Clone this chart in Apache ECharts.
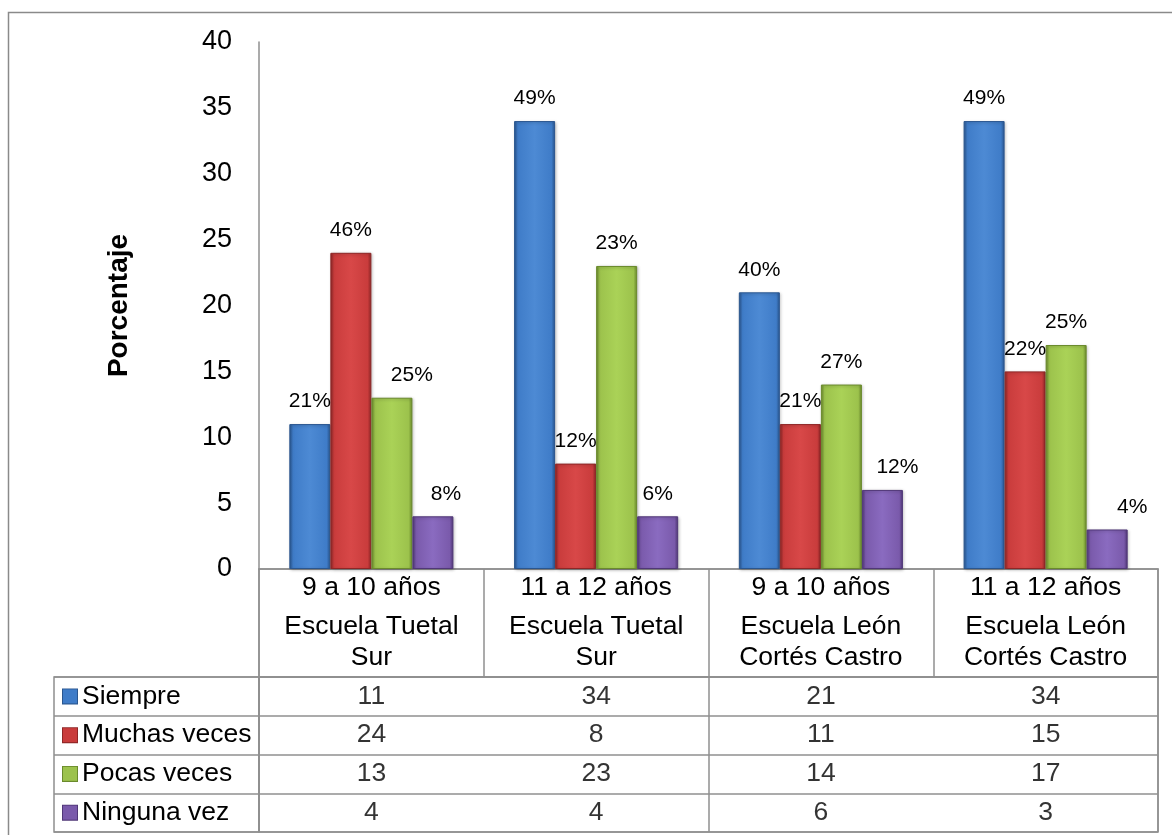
<!DOCTYPE html>
<html>
<head>
<meta charset="utf-8">
<script src="https://cdn.jsdelivr.net/npm/echarts@6/dist/echarts.min.js"></script>
<style>
  html, body { margin: 0; padding: 0; background: #fff; }
  #chart { width: 1172px; height: 835px; }
</style>
</head>
<body>
<div id="chart"></div>
<script>
// ---- data ----
const categories = ['9 a 10 años Escuela Tuetal Sur', '11 a 12 años Escuela Tuetal Sur', '9 a 10 años Escuela León Cortés Castro', '11 a 12 años Escuela León Cortés Castro'];
const ageLabels = ['9 a 10 años', '11 a 12 años', '9 a 10 años', '11 a 12 años'];
const schoolLabels = ['Escuela Tuetal\nSur', 'Escuela Tuetal\nSur', 'Escuela León\nCortés Castro', 'Escuela León\nCortés Castro'];
const seriesNames = ['Siempre', 'Muchas veces', 'Pocas veces', 'Ninguna vez'];
const siempre = [11, 34, 21, 34];
const muchasVeces = [24, 8, 11, 15];
const pocasVeces = [13, 23, 14, 17];
const ningunaVez = [4, 4, 6, 3];
const siemprePct = ['21%', '49%', '40%', '49%'];
const muchasVecesPct = ['46%', '12%', '21%', '22%'];
const pocasVecesPct = ['25%', '23%', '27%', '25%'];
const ningunaVezPct = ['8%', '6%', '12%', '4%'];
const yTicks = { min: 0, max: 40, interval: 5 };
const yAxisTitle = 'Porcentaje';

// ---- styling ----
const values = [siempre, muchasVeces, pocasVeces, ningunaVez];
const pcts = [siemprePct, muchasVecesPct, pocasVecesPct, ningunaVezPct];
const palette = [
  { body: '#3f7cc8', light: '#4d8ad4', edge: '#2a568f' },
  { body: '#c93c3c', light: '#d84848', edge: '#8e2626' },
  { body: '#9cc24c', light: '#aad257', edge: '#6a8a2c' },
  { body: '#7a5aab', light: '#8a6bc0', edge: '#503777' }
];
// horizontal nudges of a few value labels, as placed in the original chart
const labelNudge = [[0, 0, 0, 0], [0, 0, 0, 0], [20, 0, 0, 0], [13, 0, 15, 25]];

const FONT = '"Liberation Sans", Arial, sans-serif';
const LINE = '#8f8f8f';
const PLOT_LEFT = 259, PLOT_RIGHT = 14;

function barColor(p) {
  return new echarts.graphic.LinearGradient(0, 0, 1, 0, [
    { offset: 0, color: p.edge },
    { offset: 0.09, color: p.body },
    { offset: 0.5, color: p.light },
    { offset: 0.91, color: p.body },
    { offset: 1, color: p.edge }
  ]);
}

const barSeries = seriesNames.map((name, s) => ({
  name: name,
  type: 'bar',
  xAxisIndex: 0,
  yAxisIndex: 0,
  barGap: '0%',
  barCategoryGap: '27%',
  data: values[s].map((v, i) => ({
    value: v,
    label: { offset: [labelNudge[s][i], 0] }
  })),
  itemStyle: {
    color: barColor(palette[s]),
    borderColor: palette[s].edge,
    borderWidth: 1,
    shadowColor: 'rgba(0,0,0,0.25)',
    shadowBlur: 3,
    shadowOffsetX: 1,
    shadowOffsetY: 1
  },
  label: {
    show: true,
    position: 'top',
    distance: 12,
    fontFamily: FONT,
    fontSize: 21,
    color: '#000',
    formatter: (p) => pcts[s][p.dataIndex]
  },
  silent: true
}));

const cellData = [];
values.forEach((arr, s) => arr.forEach((v, i) => cellData.push([i, s, v])));

const richLegend = { t: { fontFamily: FONT, fontSize: 26.5, color: '#000', padding: [0, 0, 0, 5] } };
palette.forEach((p, s) => {
  richLegend['b' + s] = { width: 14, height: 14, backgroundColor: p.body, borderColor: p.edge, borderWidth: 1 };
});

const option = {
  animation: false,
  backgroundColor: '#fff',
  graphic: [{
    type: 'rect', silent: true, z: -10,
    shape: { x: 8.5, y: 12.5, width: 2000, height: 2000 },
    style: { fill: 'none', stroke: '#8a8a8a', lineWidth: 1.5 }
  }],
  grid: [
    { left: PLOT_LEFT, right: PLOT_RIGHT, top: 42, height: 527 },                       // plot
    { left: PLOT_LEFT, right: PLOT_RIGHT, top: 569, height: 108, show: true, borderColor: LINE, borderWidth: 1.5 }, // header
    { left: PLOT_LEFT, right: PLOT_RIGHT, top: 677, height: 155, show: true, borderColor: LINE, borderWidth: 1.5 }, // body
    { left: 54, width: 205, top: 677, height: 155, show: true, borderColor: LINE, borderWidth: 1.5 }                // legend column
  ],
  xAxis: [
    { gridIndex: 0, type: 'category', data: categories,
      axisLine: { show: true, lineStyle: { color: LINE, width: 1.5 } },
      axisTick: { show: false }, axisLabel: { show: false } },
    { gridIndex: 1, type: 'category', data: categories, position: 'top',
      axisLine: { show: false }, axisTick: { show: false },
      splitLine: { show: true, lineStyle: { color: LINE, width: 1.5 } },
      axisLabel: { show: true, inside: true, interval: 0, margin: 3, fontFamily: FONT, fontSize: 26.5, lineHeight: 31, color: '#000',
        formatter: (v, i) => ageLabels[i] } },
    { gridIndex: 1, type: 'category', data: categories, position: 'bottom',
      axisLine: { show: false }, axisTick: { show: false },
      axisLabel: { show: true, inside: true, interval: 0, margin: 4, fontFamily: FONT, fontSize: 26.5, lineHeight: 31, color: '#000', align: 'center',
        formatter: (v, i) => schoolLabels[i] } },
    { gridIndex: 2, type: 'category', data: categories,
      axisLine: { show: false }, axisTick: { show: false }, axisLabel: { show: false },
      splitLine: { show: true, lineStyle: { color: LINE, width: 1.5 } } },
    { gridIndex: 3, type: 'value', show: false }
  ],
  yAxis: [
    { gridIndex: 0, type: 'value', min: yTicks.min, max: yTicks.max, interval: yTicks.interval,
      axisLine: { show: true, lineStyle: { color: LINE, width: 1.5 } },
      axisTick: { show: false }, splitLine: { show: false },
      axisLabel: { margin: 27, fontFamily: FONT, fontSize: 27, color: '#000' },
      name: yAxisTitle, nameLocation: 'middle', nameGap: 126,
      nameTextStyle: { fontFamily: FONT, fontSize: 28, fontWeight: 'bold', color: '#000' } },
    { gridIndex: 1, type: 'value', show: false },
    { gridIndex: 2, type: 'category', data: seriesNames, inverse: true,
      axisLine: { show: false }, axisTick: { show: false }, axisLabel: { show: false },
      splitLine: { show: true, lineStyle: { color: LINE, width: 1.5 } } },
    { gridIndex: 3, type: 'category', data: seriesNames, inverse: true,
      axisLine: { show: false }, axisTick: { show: false },
      splitLine: { show: true, lineStyle: { color: LINE, width: 1.5 } },
      axisLabel: { show: true, inside: true, margin: 9, interval: 0,
        formatter: (v, i) => '{b' + i + '|}{t|' + v + '}', rich: richLegend } }
  ],
  series: barSeries.concat([{
    type: 'scatter',
    xAxisIndex: 3,
    yAxisIndex: 2,
    data: cellData,
    symbolSize: 1,
    itemStyle: { color: 'transparent' },
    label: { show: true, position: 'inside', fontFamily: FONT, fontSize: 26.5, color: '#000',
      formatter: (p) => String(p.value[2]) },
    silent: true
  }])
};

const chart = echarts.init(document.getElementById('chart'), null, { renderer: 'canvas' });
chart.setOption(option);
</script>
</body>
</html>
